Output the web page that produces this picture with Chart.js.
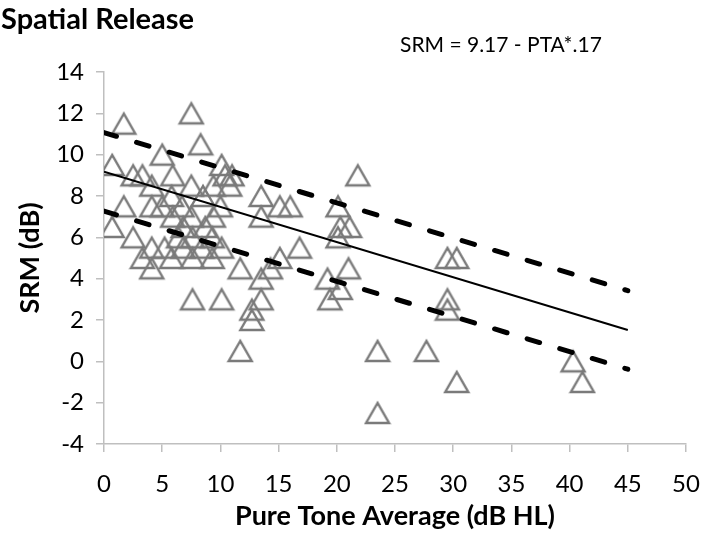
<!DOCTYPE html>
<html>
<head>
<meta charset="utf-8">
<script src="https://cdn.jsdelivr.net/npm/chart.js@4.4.0/dist/chart.umd.min.js"></script>
<style>
  body { margin: 0; background: #fff; }
  #wrap { width: 708px; height: 535px; }
</style>
</head>
<body>
<div id="wrap"><canvas id="grafico" width="708" height="535"></canvas></div>
<script>
// pontos (PTA em dB HL, SRM em dB)
const pta = [7.5, 1.7, 8.3, 5, 0.7, 10.1,
  2.5, 3.3, 5.9, 10.4, 11, 21.8,
  4.1, 7.5, 9.4, 10.8,
  5.8, 8.5, 13.5,
  1.7, 4.1, 5, 6.7, 10, 15.1, 16, 20.1,
  5.9, 7.5, 9.4, 13.5,
  0.7, 6.8, 8.7, 20.3, 21.1,
  2.5, 6.4, 7.6, 9.3, 20.1,
  4.1, 5.2, 6.8, 8.4, 10.1, 16.8,
  3.3, 5.8, 7.6, 9.3, 15.1, 29.5, 30.3,
  4.1, 11.7, 14.3, 21,
  13.5, 19.2,
  20.3,
  7.6, 10.1, 13.5, 19.4, 29.5,
  12.7, 29.5,
  12.7,
  11.7, 23.5, 27.7,
  40.3,
  30.3, 41.1,
  23.5];
const srm = [12, 11.5, 10.5, 10, 9.5, 9.5,
  9, 9, 9, 9, 9, 9,
  8.5, 8.5, 8.5, 8.5,
  8, 8, 8,
  7.5, 7.5, 7.5, 7.5, 7.5, 7.5, 7.5, 7.5,
  7, 7, 7, 7,
  6.5, 6.5, 6.5, 6.5, 6.5,
  6, 6, 6, 6, 6,
  5.5, 5.5, 5.5, 5.5, 5.5, 5.5,
  5, 5, 5, 5, 5, 5, 5,
  4.5, 4.5, 4.5, 4.5,
  4, 4,
  3.5,
  3, 3, 3, 3, 3,
  2.5, 2.5,
  2,
  0.5, 0.5, 0.5,
  0,
  -1, -1,
  -2.5];

// reta de regressao e limites
const linhaX = [0, 45];
const linhaY = [9.17, 1.52];
const limSupY = [11.07, 3.42];
const limInfY = [7.27, -0.38];

const xTicks = [0, 5, 10, 15, 20, 25, 30, 35, 40, 45, 50];
const yTicks = [-4, -2, 0, 2, 4, 6, 8, 10, 12, 14];

const titulo = 'Spatial Release';
const equacao = 'SRM = 9.17 - PTA*.17';
const tituloX = 'Pure Tone Average (dB HL)';
const tituloY = 'SRM (dB)';

const fonte = 'Lato, "Open Sans", sans-serif';

// marcador triangulo vazado centrado pela caixa
function criarTriangulo() {
  const c = document.createElement('canvas');
  c.width = 28;
  c.height = 26;
  const ctx = c.getContext('2d');
  ctx.strokeStyle = '#7a7a7a';
  ctx.lineWidth = 2.4;
  ctx.beginPath();
  ctx.moveTo(14, 3);
  ctx.lineTo(2.5, 23);
  ctx.lineTo(25.5, 23);
  ctx.closePath();
  ctx.stroke();
  return c;
}
const triangulo = criarTriangulo();

function pares(xs, ys) {
  return xs.map((x, i) => ({ x: x, y: ys[i] }));
}

const textos = {
  id: 'textos',
  afterDraw(chart) {
    const ctx = chart.ctx;
    ctx.save();
    ctx.fillStyle = '#000';
    ctx.textBaseline = 'middle';
    ctx.textAlign = 'left';
    ctx.font = 'bold 29px ' + fonte;
    ctx.fillText(titulo, 1, 20);
    ctx.font = '21px ' + fonte;
    ctx.fillText(equacao, 400, 45);
    ctx.restore();
  }
};

const cinza = '#bfbfbf';

new Chart(document.getElementById('grafico').getContext('2d'), {
  type: 'scatter',
  data: {
    datasets: [
      {
        label: 'reta',
        data: pares(linhaX, linhaY),
        showLine: true,
        borderColor: '#000',
        borderWidth: 2,
        pointRadius: 0
      },
      {
        label: 'limite superior',
        data: pares(linhaX, limSupY),
        showLine: true,
        borderColor: '#000',
        borderWidth: 5,
        borderDash: [13, 21],
        borderCapStyle: 'round',
        pointRadius: 0
      },
      {
        label: 'limite inferior',
        data: pares(linhaX, limInfY),
        showLine: true,
        borderColor: '#000',
        borderWidth: 5,
        borderDash: [13, 21],
        borderCapStyle: 'round',
        pointRadius: 0
      },
      {
        label: 'SRM',
        data: pares(pta, srm),
        pointStyle: triangulo,
        pointRadius: 12,
        pointHoverRadius: 12
      }
    ]
  },
  options: {
    responsive: false,
    animation: false,
    devicePixelRatio: 1,
    layout: { padding: { top: 72, right: 22, left: 0, bottom: 0 } },
    plugins: {
      legend: { display: false },
      tooltip: { enabled: false }
    },
    scales: {
      x: {
        type: 'linear',
        min: 0,
        max: 50,
        afterFit(scale) {
          scale.height = 91;
          scale.paddingLeft = 0;
          scale.paddingRight = 0;
        },
        afterBuildTicks(scale) { scale.ticks = xTicks.map(v => ({ value: v })); },
        ticks: { color: '#000', font: { family: fonte, size: 24 }, padding: 18 },
        grid: { drawOnChartArea: false, drawTicks: true, tickLength: 8, color: cinza, lineWidth: 1.5 },
        border: { color: cinza, width: 1.5 },
        title: {
          display: true,
          text: tituloX,
          color: '#000',
          font: { family: fonte, size: 27, weight: 'bold' },
          padding: { top: 0, bottom: 3 }
        }
      },
      y: {
        type: 'linear',
        min: -4,
        max: 14,
        afterFit(scale) { scale.width = 104; },
        afterBuildTicks(scale) { scale.ticks = yTicks.map(v => ({ value: v })); },
        ticks: { color: '#000', font: { family: fonte, size: 24 }, padding: 12 },
        grid: { drawOnChartArea: false, drawTicks: true, tickLength: 8, color: cinza, lineWidth: 1.5 },
        border: { color: cinza, width: 1.5 },
        title: {
          display: true,
          text: tituloY,
          color: '#000',
          font: { family: fonte, size: 27, weight: 'bold' },
          padding: { top: 14, bottom: 0 }
        }
      }
    }
  },
  plugins: [textos]
});
</script>
</body>
</html>
